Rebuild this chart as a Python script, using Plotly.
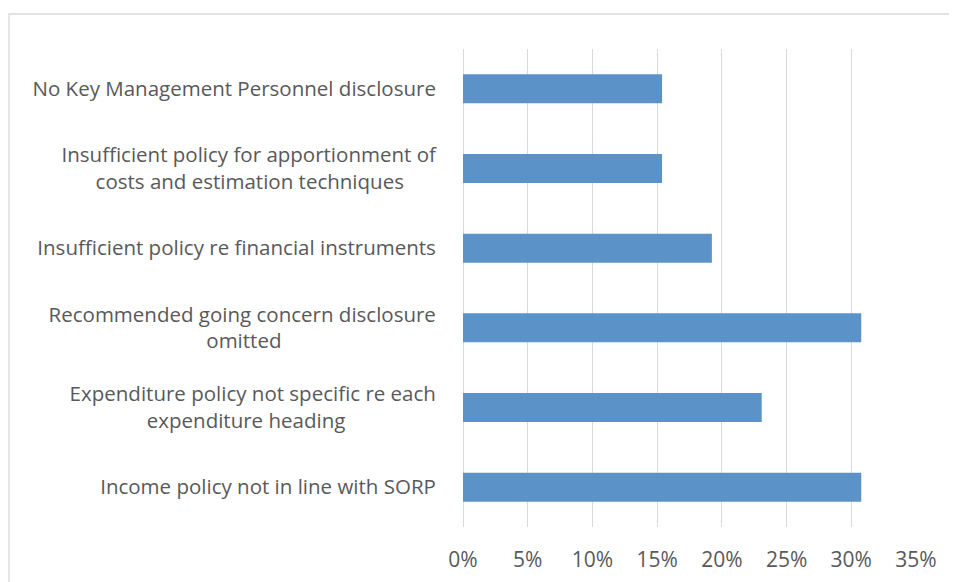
import plotly.graph_objects as go

categories = [
    "Income policy not in line with SORP",
    "Expenditure policy not specific re each<br>expenditure heading",
    "Recommended going concern disclosure<br>omitted",
    "Insufficient policy re financial instruments",
    "Insufficient policy for apportionment of<br>costs and estimation techniques",
    "No Key Management Personnel disclosure",
]
values = [0.3077, 0.2308, 0.3077, 0.1923, 0.1538, 0.1538]
x_ticks = [0, 0.05, 0.10, 0.15, 0.20, 0.25, 0.30, 0.35]
x_tick_labels = ["0%", "5%", "10%", "15%", "20%", "25%", "30%", "35%"]


def approx_width(s):
    w = 0.0
    for ch in s:
        if ch in "ilj.,'|":
            w += 0.25
        elif ch in "tfr ":
            w += 0.33
        elif ch == "m":
            w += 0.86
        elif ch == "w":
            w += 0.72
        elif ch.isupper():
            w += 0.65
        else:
            w += 0.56
    return w


def center_pad(label):
    # tick labels are right-anchored; pad the shorter line so both look centred
    if "<br>" not in label:
        return label
    a, b = label.split("<br>")
    diff = approx_width(a) - approx_width(b)
    if diff > 0:
        b = b + "\u00a0" * int(round(diff / 0.26 / 2))
    return a + "<br>" + b


tick_text = [center_pad(c) for c in categories]

# page body has an 8px offset; margins compensate so the plot lands where the reference has it
OFF = 8
L, R, T, B = 463 - OFF, 41 + OFF, 49 - OFF, 55 + OFF
PW = 957 - L - R
PH = 582 - T - B

fig = go.Figure(
    go.Bar(
        x=values,
        y=categories,
        orientation="h",
        marker=dict(color="#5B93C9", line=dict(width=0)),
        hoverinfo="skip",
    )
)

fig.update_layout(
    width=957,
    height=582,
    margin=dict(l=L, r=R, t=T, b=B),
    paper_bgcolor="white",
    plot_bgcolor="white",
    bargap=0.636,
    showlegend=False,
    font=dict(family="Open Sans", size=20, color="#595959"),
    shapes=[
        dict(
            type="rect",
            xref="paper",
            yref="paper",
            x0=(9 - OFF - L) / PW,
            x1=1.6,
            y0=-0.5,
            y1=1 + (T - (14 - OFF)) / PH,
            line=dict(color="#D9D9D9", width=1.3),
            fillcolor="rgba(0,0,0,0)",
            layer="below",
        )
    ],
)

fig.update_xaxes(
    range=[0, 0.35],
    tickvals=x_ticks,
    ticktext=x_tick_labels,
    showgrid=True,
    gridcolor="#D9D9D9",
    gridwidth=1.3,
    zeroline=True,
    zerolinecolor="#D9D9D9",
    zerolinewidth=1.3,
    showline=False,
    ticks="outside",
    ticklen=14,
    tickcolor="rgba(0,0,0,0)",
    tickfont=dict(size=21, color="#595959"),
    fixedrange=True,
)

fig.update_yaxes(
    type="category",
    categoryorder="array",
    categoryarray=categories,
    tickvals=categories,
    ticktext=tick_text,
    showgrid=False,
    zeroline=False,
    showline=False,
    ticks="outside",
    ticklen=22,
    tickcolor="rgba(0,0,0,0)",
    tickfont=dict(size=20.5, color="#595959"),
    fixedrange=True,
)

fig.write_html("out.html")
